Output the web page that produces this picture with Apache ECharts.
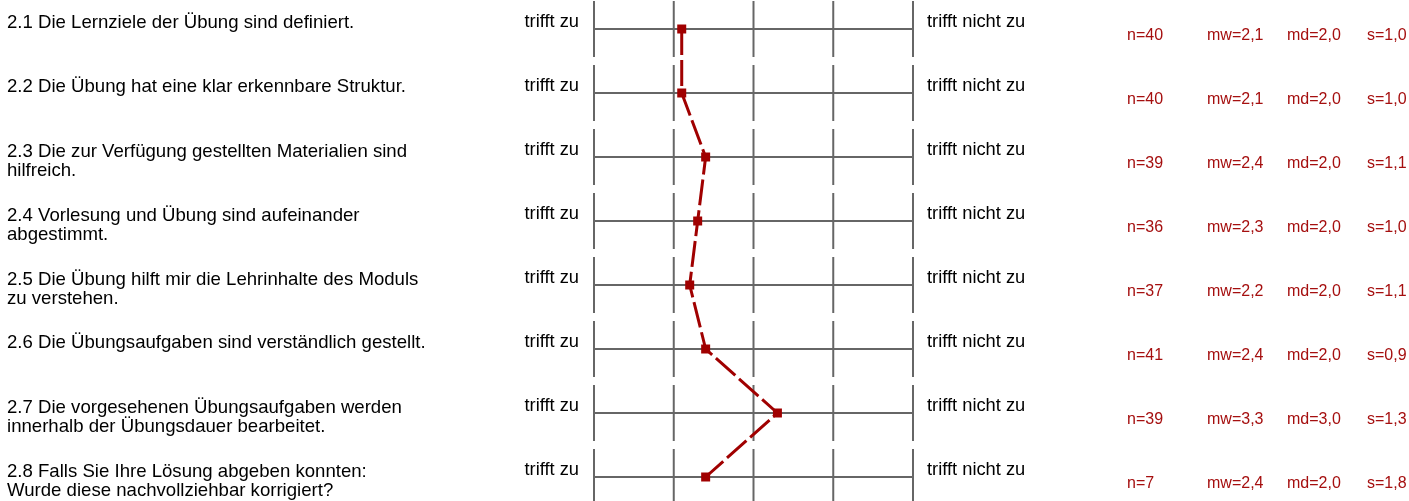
<!DOCTYPE html>
<html>
<head>
<meta charset="utf-8">
<script src="https://cdn.jsdelivr.net/npm/echarts@6/dist/echarts.min.js"></script>
<style>
html,body{margin:0;padding:0;background:#fff;}
#chart{width:1409px;height:501px;}
</style>
</head>
<body>
<div id="chart"></div>
<script>
var questions = [
  "2.1 Die Lernziele der Übung sind definiert.",
  "2.2 Die Übung hat eine klar erkennbare Struktur.",
  "2.3 Die zur Verfügung gestellten Materialien sind\nhilfreich.",
  "2.4 Vorlesung und Übung sind aufeinander\nabgestimmt.",
  "2.5 Die Übung hilft mir die Lehrinhalte des Moduls\nzu verstehen.",
  "2.6 Die Übungsaufgaben sind verständlich gestellt.",
  "2.7 Die vorgesehenen Übungsaufgaben werden\ninnerhalb der Übungsdauer bearbeitet.",
  "2.8 Falls Sie Ihre Lösung abgeben konnten:\nWurde diese nachvollziehbar korrigiert?"
];
var leftPole = "trifft zu";
var rightPole = "trifft nicht zu";
var nValues = [40, 40, 39, 36, 37, 41, 39, 7];
var mwValues = [2.1, 2.1, 2.4, 2.3, 2.2, 2.4, 3.3, 2.4];
var mdValues = [2.0, 2.0, 2.0, 2.0, 2.0, 2.0, 3.0, 2.0];
var sValues = [1.0, 1.0, 1.1, 1.0, 1.1, 0.9, 1.3, 1.8];
var scaleTicks = [1, 2, 3, 4, 5];

function fmt(v){ return v.toFixed(1).replace('.', ','); }

var chart = echarts.init(document.getElementById('chart'), null, {renderer:'canvas'});
var FONT = '"Liberation Sans", Arial, sans-serif';
var GREY = '#666666';
var RED = '#a50f0f';

var option = {
  animation: false,
  grid: {left: 594, width: 319, top: 0, bottom: 0},
  xAxis: {type: 'value', min: 1, max: 5, show: false},
  yAxis: {type: 'value', inverse: true, show: false, min: -29/64, max: 472/64},
  series: [
    {
      type: 'custom',
      silent: true,
      z: 1,
      data: questions.map(function(q, i){ return [1, i]; }),
      renderItem: function(params, api){
        var i = params.dataIndex;
        var p1 = api.coord([1, i]);
        var p5 = api.coord([5, i]);
        var cy = p1[1];
        var children = [];
        children.push({type:'line', shape:{x1:p1[0], y1:cy, x2:p5[0], y2:cy}, style:{stroke:GREY, lineWidth:2}});
        scaleTicks.forEach(function(t){
          var p = api.coord([t, i]);
          children.push({type:'line', shape:{x1:p[0], y1:cy-28, x2:p[0], y2:cy+28}, style:{stroke:GREY, lineWidth:2}});
        });
        children.push({type:'text', style:{text:leftPole, x:p1[0]-15, y:cy-7, align:'right', verticalAlign:'middle', fontSize:18.3, fontFamily:FONT, fill:'#000'}});
        children.push({type:'text', style:{text:rightPole, x:p5[0]+14, y:cy-7, align:'left', verticalAlign:'middle', fontSize:18.3, fontFamily:FONT, fill:'#000'}});
        var multi = questions[i].indexOf('\n') >= 0;
        children.push({type:'text', style:{text:questions[i], x:7, y:cy-(multi ? 14.5 : 16), align:'left', verticalAlign:'top', fontSize:18.6, lineHeight:19, fontFamily:FONT, fill:'#000'}});
        var stats = ['n=' + nValues[i], 'mw=' + fmt(mwValues[i]), 'md=' + fmt(mdValues[i]), 's=' + fmt(sValues[i])];
        var offs = [214, 294, 374, 454];
        stats.forEach(function(s, k){
          children.push({type:'text', style:{text:s, x:p5[0]+offs[k], y:cy+7, align:'left', verticalAlign:'middle', fontSize:16, fontFamily:FONT, fill:RED}});
        });
        return {type:'group', children:children};
      }
    },
    {
      type: 'line',
      z: 5,
      data: mwValues.map(function(v, i){ return [v, i]; }),
      symbol: 'rect',
      symbolSize: 9,
      itemStyle: {color: '#a00000'},
      lineStyle: {color: '#a00000', width: 3, type: [26, 5]},
      silent: true
    }
  ]
};
chart.setOption(option);
</script>
</body>
</html>
